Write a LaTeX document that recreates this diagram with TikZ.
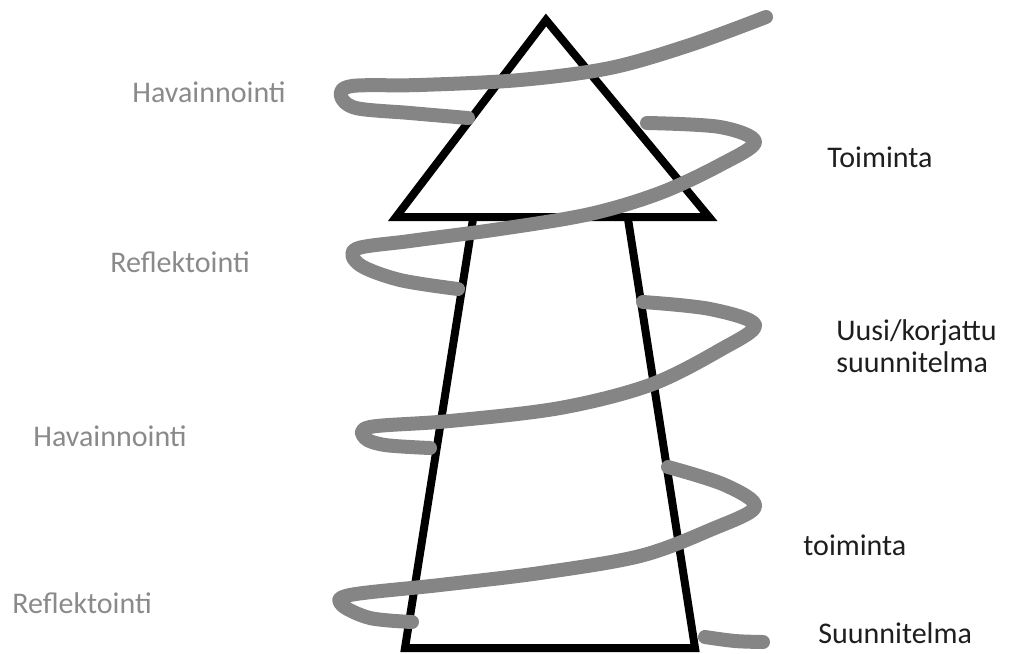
\documentclass[tikz,border=0pt]{standalone}
\usepackage{fontspec}
\setmainfont{Carlito}
\usepackage{xcolor}
\definecolor{coilGray}{HTML}{858585}
\definecolor{lblGray}{HTML}{8A8A8A}
\definecolor{lblDark}{HTML}{1E1E1E}

\begin{document}
\begin{tikzpicture}[x=0.5pt, y=-0.5pt,
  frame/.style={draw=black, line width=4pt},
  coil/.style={draw=coilGray, line width=7pt, line cap=round, line join=round},
  lbl/.style={anchor=west, inner sep=0pt, font=\fontsize{15}{16}\selectfont},
  obs/.style={lbl, text=lblGray},
  act/.style={lbl, text=lblDark},
]
  \useasboundingbox (0,0) rectangle (1021,653);

  % tower: triangle on a trapezoid
  \draw[frame] (546,20) -- (396,217) -- (709,217) -- cycle;
  \draw[frame] (473,219) -- (405,648) -- (695,648) -- (628,219);

  % the grey spiral, from top to bottom
  \draw[coil] plot[smooth, tension=0.55] coordinates {(766,17) (690,45) (610,68) (520,80) (420,85) (352,86) (341,96) (356,108) (410,113) (468,118)};
  \draw[coil] plot[smooth, tension=0.55] coordinates {(647,123) (720,127) (755,142) (720,165) (660,193) (590,214) (500,229) (410,241) (356,249) (360,265) (400,280) (458,289)};
  \draw[coil] plot[smooth, tension=0.55] coordinates {(643,302) (710,309) (755,325) (720,350) (650,385) (560,408) (450,421) (370,427) (365,438) (385,445) (430,448)};
  \draw[coil] plot[smooth, tension=0.55] coordinates {(668,467) (725,485) (755,507) (710,530) (640,556) (540,573) (440,585) (350,595) (342,605) (370,618) (412,622)};
  \draw[coil] plot[smooth, tension=0.55] coordinates {(705,637) (735,641) (763,642)};

  % labels
  \node[obs] (hav1) at (132,92) {Havainnointi};
  \node[obs] (ref1) at (110,262) {Reflektointi};
  \node[obs] (hav2) at (33,436) {Havainnointi};
  \node[obs] (ref2) at (12,603) {Reflektointi};
  \node[act] (toi1) at (827,157) {Toiminta};
  \node[act, align=left] (uusi) at (836,346) {Uusi/korjattu\\suunnitelma};
  \node[act] (toi2) at (803,545) {toiminta};
  \node[act] (suun) at (818,633) {Suunnitelma};
\end{tikzpicture}
\end{document}
